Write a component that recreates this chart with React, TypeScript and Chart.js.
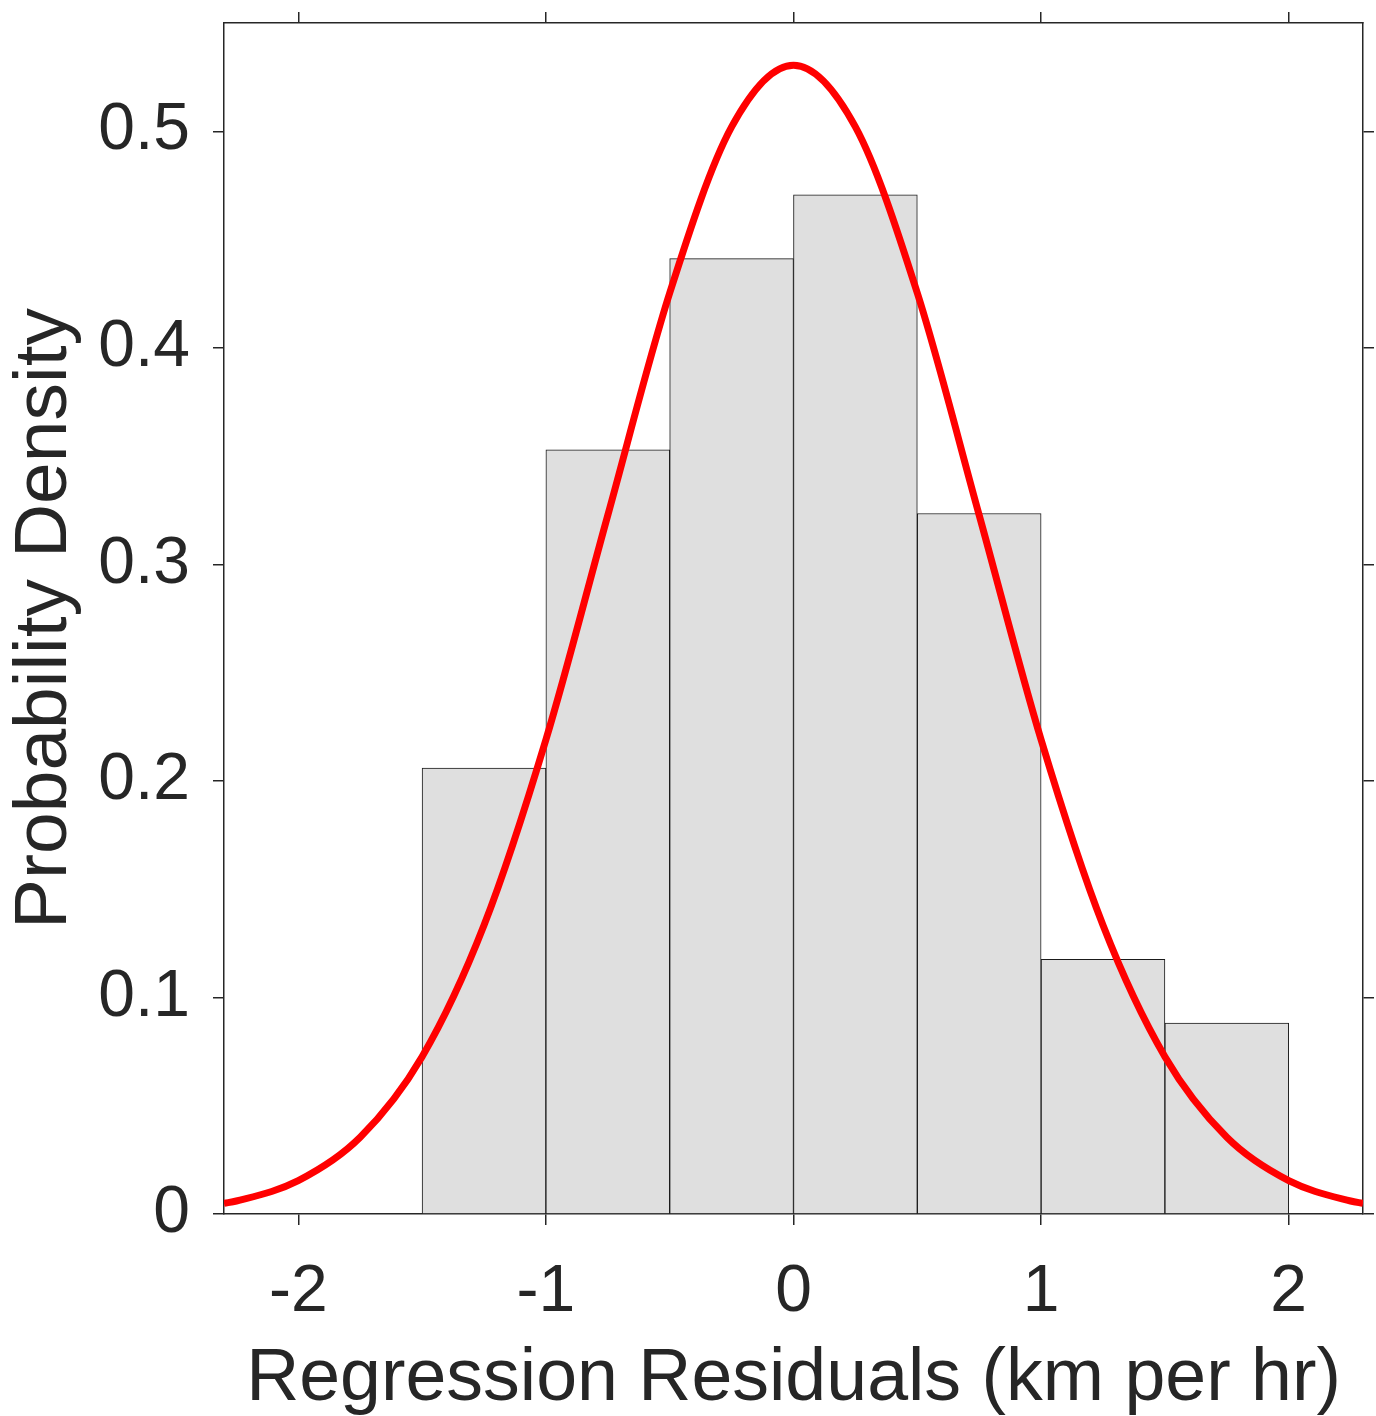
import React, { useEffect, useRef } from "react";
import { Chart, registerables } from "chart.js";

Chart.register(...registerables);

// Histogram bins (centres, width 0.5) and their probability density
const binCenters = [-1.25, -0.75, -0.25, 0.25, 0.75, 1.25, 1.75];
const binDensity = [0.2059, 0.3529, 0.4412, 0.4706, 0.3235, 0.1176, 0.0882];

// Fitted normal density curve
const curveX = [-2.3, -2.25, -2, -1.75, -1.5, -1.25, -1, -0.75, -0.5, -0.25, 0, 0.25, 0.5, 0.75, 1, 1.25, 1.5, 1.75, 2, 2.25, 2.3];
const curveY = [0.0049, 0.006, 0.0154, 0.0354, 0.0726, 0.1333, 0.219, 0.3227, 0.4253, 0.502, 0.5305, 0.502, 0.4253, 0.3227, 0.219, 0.1333, 0.0726, 0.0354, 0.0154, 0.006, 0.0049];

const xTicks = [-2, -1, 0, 1, 2];
const yTicks = [0, 0.1, 0.2, 0.3, 0.4, 0.5];
const xRange = [-2.3, 2.3];
const yRange = [0, 0.55];
const xTitle = "Regression Residuals (km per hr)";
const yTitle = "Probability Density";

const W = 1376;
const H = 1416;
const FONT = "'Liberation Sans', Arial, Helvetica, sans-serif";
const INK = "#262626";

export default function App() {
  const ref = useRef<HTMLCanvasElement | null>(null);

  useEffect(() => {
    const canvas = ref.current;
    if (!canvas) return;

    const axisGrid = {
      display: true,
      drawOnChartArea: false,
      drawTicks: true,
      tickLength: 11,
      color: INK,
      lineWidth: 1.5,
      offset: false,
    };
    const border = { display: true, color: INK, width: 1.5 };
    const zeroPad = (s: any) => {
      s.paddingTop = 0;
      s.paddingBottom = 0;
      s.paddingLeft = 0;
      s.paddingRight = 0;
    };

    const chart = new Chart(canvas, {
      type: "bar",
      data: {
        datasets: [
          {
            type: "line",
            label: "Normal fit",
            data: curveX.map((x, i) => ({ x, y: curveY[i] })),
            borderColor: "#ff0000",
            borderWidth: 7,
            pointRadius: 0,
            cubicInterpolationMode: "monotone",
            fill: false,
            order: 0,
          } as any,
          {
            type: "bar",
            label: "Residuals",
            data: binCenters.map((x, i) => ({ x, y: binDensity[i] })),
            backgroundColor: "#dfdfdf",
            borderColor: "#1a1a1a",
            borderWidth: 1,
            barPercentage: 1,
            categoryPercentage: 1,
            order: 1,
          } as any,
        ],
      },
      options: {
        responsive: false,
        animation: false,
        devicePixelRatio: 1,
        layout: { padding: 0 },
        plugins: { legend: { display: false }, tooltip: { enabled: false } },
        scales: {
          x: {
            type: "linear",
            position: "bottom",
            min: xRange[0],
            max: xRange[1],
            offset: false,
            grid: axisGrid,
            border,
            afterBuildTicks: (s: any) => {
              s.ticks = xTicks.map((v) => ({ value: v }));
            },
            afterFit: (s: any) => {
              s.height = H - 1214;
              zeroPad(s);
            },
            ticks: {
              padding: 28,
              color: INK,
              font: { family: FONT, size: 66 },
              maxRotation: 0,
              autoSkip: false,
              callback: (v: any) => String(v),
            },
            title: {
              display: true,
              text: xTitle,
              color: INK,
              font: { family: FONT, size: 73.5, lineHeight: 1 },
              padding: { top: 0, bottom: 0 },
            },
          },
          x2: {
            type: "linear",
            position: "top",
            min: xRange[0],
            max: xRange[1],
            offset: false,
            grid: axisGrid,
            border,
            afterBuildTicks: (s: any) => {
              s.ticks = xTicks.map((v) => ({ value: v }));
            },
            afterFit: (s: any) => {
              s.height = 23;
              zeroPad(s);
            },
            ticks: { display: false },
          },
          y: {
            type: "linear",
            position: "left",
            min: yRange[0],
            max: yRange[1],
            grid: axisGrid,
            border,
            afterBuildTicks: (s: any) => {
              s.ticks = yTicks.map((v) => ({ value: v }));
            },
            afterFit: (s: any) => {
              s.width = 224;
              zeroPad(s);
            },
            ticks: {
              padding: 23,
              color: INK,
              font: { family: FONT, size: 66 },
              autoSkip: false,
              callback: (v: any) => String(v),
            },
            title: {
              display: true,
              text: yTitle,
              color: INK,
              font: { family: FONT, size: 75, lineHeight: 1 },
              padding: { top: 8, bottom: 0 },
            },
          },
          y2: {
            type: "linear",
            position: "right",
            min: yRange[0],
            max: yRange[1],
            grid: axisGrid,
            border,
            afterBuildTicks: (s: any) => {
              s.ticks = yTicks.map((v) => ({ value: v }));
            },
            afterFit: (s: any) => {
              s.width = W - 1363;
              zeroPad(s);
            },
            ticks: { display: false },
          },
        },
      } as any,
    });

    return () => chart.destroy();
  }, []);

  return (
    <canvas
      ref={ref}
      width={W}
      height={H}
      style={{ position: "absolute", left: 0, top: 0, width: W, height: H, background: "#ffffff" }}
    />
  );
}
